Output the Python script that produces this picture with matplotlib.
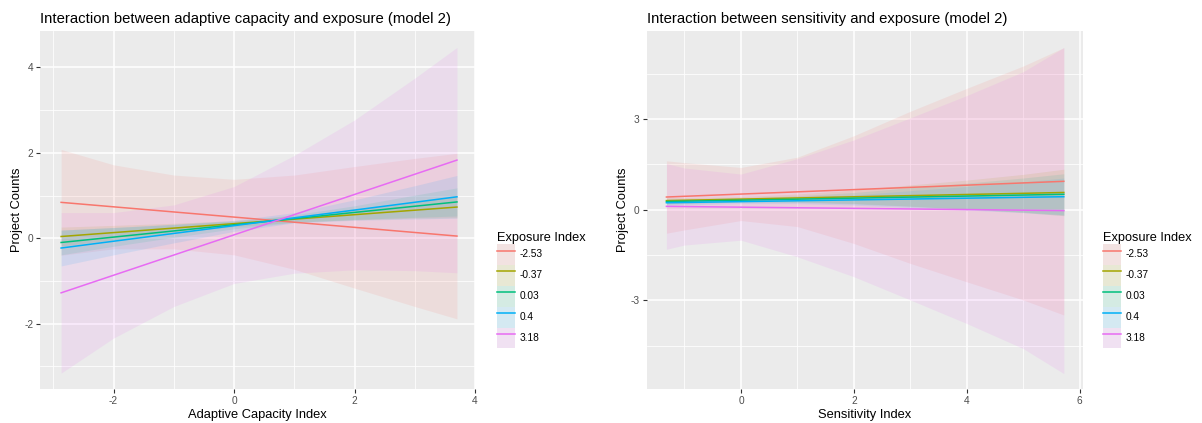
import numpy as np
import matplotlib.pyplot as plt
from matplotlib.patches import Patch
from matplotlib.lines import Line2D

plt.rcParams['font.family'] = ['Liberation Sans', 'DejaVu Sans']
plt.rcParams['axes.unicode_minus'] = False

# Exposure levels and ggplot hue colours
levels = ['-2.53', '-0.37', '0.03', '0.4', '3.18']
colors = ['#F8766D', '#A3A500', '#00BF7D', '#00B0F6', '#E76BF3']

# ---- panel 1: adaptive capacity ----
ac_range = [-2.87, 3.70]
ac_fit = {
    '-2.53': [0.84, 0.05],
    '-0.37': [0.04, 0.73],
    '0.03': [-0.10, 0.85],
    '0.4': [-0.23, 0.97],
    '3.18': [-1.28, 1.83],
}
ac_x = [-2.87, -2, -1, 0, 1, 2, 3, 3.70]
ac_lower = {
    '-2.53': [-0.40, -0.25, -0.25, -0.39, -0.73, -1.17, -1.60, -1.89],
    '-0.37': [-0.18, -0.04, 0.13, 0.27, 0.38, 0.43, 0.47, 0.48],
    '0.03': [-0.39, -0.19, 0.02, 0.22, 0.37, 0.44, 0.49, 0.52],
    '0.4': [-0.65, -0.39, -0.11, 0.16, 0.36, 0.42, 0.45, 0.47],
    '3.18': [-3.16, -2.34, -1.60, -1.06, -0.82, -0.74, -0.76, -0.81],
}
ac_upper = {
    '-2.53': [2.08, 1.72, 1.48, 1.38, 1.48, 1.68, 1.87, 1.99],
    '-0.37': [0.26, 0.30, 0.35, 0.41, 0.52, 0.67, 0.85, 0.98],
    '0.03': [0.19, 0.25, 0.32, 0.40, 0.55, 0.76, 1.01, 1.18],
    '0.4': [0.19, 0.25, 0.33, 0.42, 0.60, 0.90, 1.23, 1.47],
    '3.18': [0.60, 0.60, 0.78, 1.21, 1.94, 2.77, 3.75, 4.47],
}

# ---- panel 2: sensitivity ----
se_range = [-1.32, 5.72]
se_fit = {
    '-2.53': [0.42, 0.94],
    '-0.37': [0.30, 0.57],
    '0.03': [0.27, 0.51],
    '0.4': [0.23, 0.43],
    '3.18': [0.11, -0.03],
}
se_x = [-1.32, -1, 0, 1, 2, 3, 4, 5, 5.72]
se_lower = {
    '-2.53': [-0.78, -0.67, -0.36, -0.56, -1.12, -1.78, -2.39, -2.99, -3.49],
    '-0.37': [0.20, 0.22, 0.27, 0.26, 0.21, 0.12, 0.02, -0.09, -0.20],
    '0.03': [0.18, 0.20, 0.25, 0.24, 0.19, 0.11, 0.02, -0.08, -0.17],
    '0.4': [0.14, 0.16, 0.20, 0.20, 0.15, 0.07, -0.01, -0.10, -0.19],
    '3.18': [-1.31, -1.17, -1.01, -1.56, -2.22, -2.99, -3.77, -4.60, -5.43],
}
se_upper = {
    '-2.53': [1.62, 1.56, 1.40, 1.74, 2.45, 3.26, 4.02, 4.76, 5.37],
    '-0.37': [0.40, 0.40, 0.43, 0.52, 0.65, 0.82, 0.98, 1.17, 1.34],
    '0.03': [0.36, 0.36, 0.39, 0.46, 0.57, 0.73, 0.88, 1.05, 1.19],
    '0.4': [0.32, 0.32, 0.34, 0.40, 0.49, 0.63, 0.77, 0.92, 1.05],
    '3.18': [1.53, 1.38, 1.18, 1.69, 2.31, 3.04, 3.78, 4.57, 5.37],
}

band_alpha = 0.12


def gg_axes(ax, xmajor, xminor, ymajor, yminor):
    ax.set_facecolor('#EBEBEB')
    for s in ax.spines.values():
        s.set_visible(False)
    ax.set_xticks(xmajor)
    ax.set_xticks(xminor, minor=True)
    ax.set_yticks(ymajor)
    ax.set_yticks(yminor, minor=True)
    ax.grid(which='major', color='white', lw=1.1)
    ax.grid(which='minor', color='white', lw=0.55)
    ax.set_axisbelow(True)
    ax.tick_params(which='major', length=3, width=0.8, color='#333333',
                   labelcolor='#4D4D4D', labelsize=7.3, pad=2)
    ax.tick_params(which='minor', length=0)


def draw_panel(ax, xr, fit, xs, lower, upper):
    for lev, c in zip(levels, colors):
        ax.fill_between(xs, lower[lev], upper[lev], color=c, alpha=band_alpha, lw=0)
    for lev, c in zip(levels, colors):
        ax.plot(xr, fit[lev], color=c, lw=1.1)


fig = plt.figure(figsize=(12.02, 4.23), dpi=100)
ax1 = fig.add_axes([0.0333, 0.0797, 0.3619, 0.847])
ax2 = fig.add_axes([0.538, 0.0797, 0.3630, 0.847])

draw_panel(ax1, ac_range, ac_fit, ac_x, ac_lower, ac_upper)
gg_axes(ax1, [-2, 0, 2, 4], [-3, -1, 1, 3], [-2, 0, 2, 4], [-3, -1, 1, 3])
ax1.set_xlim(-3.22, 4.0)
ax1.set_ylim(-3.54, 4.855)
ax1.set_title('Interaction between adaptive capacity and exposure (model 2)',
              loc='left', fontsize=10.7, pad=6)
ax1.set_xlabel('Adaptive Capacity Index', fontsize=9.3, labelpad=2)
ax1.set_ylabel('Project Counts', fontsize=9.3, labelpad=1)

draw_panel(ax2, se_range, se_fit, se_x, se_lower, se_upper)
gg_axes(ax2, [0, 2, 4, 6], [-1, 1, 3, 5], [-3, 0, 3], [-4.5, -1.5, 1.5, 4.5])
ax2.set_xlim(-1.67, 6.06)
ax2.set_ylim(-5.95, 5.92)
ax2.set_title('Interaction between sensitivity and exposure (model 2)',
              loc='left', fontsize=10.7, pad=6)
ax2.set_xlabel('Sensitivity Index', fontsize=9.3, labelpad=2)
ax2.set_ylabel('Project Counts', fontsize=9.3, labelpad=1)

# legends: grey key, light band, coloured line
for xpos in (0.4135, 0.9176):
    handles = []
    for c in colors:
        handles.append((Patch(facecolor='#F2F2F2', edgecolor='none'),
                        Patch(facecolor=c, alpha=band_alpha, edgecolor='none'),
                        Line2D([], [], color=c, lw=1.1)))
    leg = fig.legend(handles, levels, title='Exposure Index', loc='upper left',
                     bbox_to_anchor=(xpos, 0.452), frameon=False, fontsize=7.3,
                     title_fontsize=9.2, handlelength=1.75, handleheight=2.8,
                     labelspacing=0.0, handletextpad=0.45, borderpad=0,
                     borderaxespad=0)
    leg._legend_box.align = 'left'

fig.savefig('out.png', dpi=100)
